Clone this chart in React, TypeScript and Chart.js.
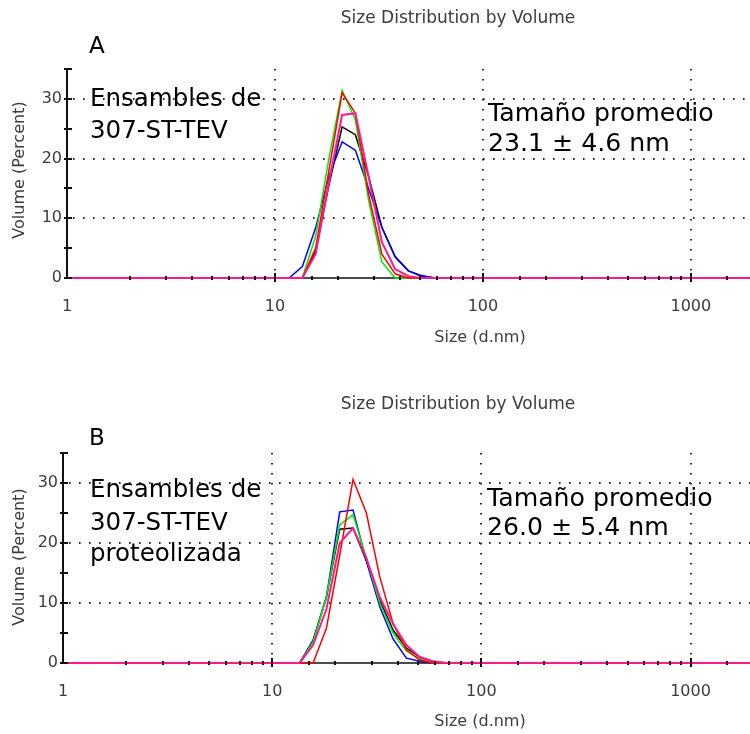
import React, { useEffect, useRef } from 'react';
import { Chart, registerables } from 'chart.js';

Chart.register(...registerables);

// Size bins (d.nm) of the DLS instrument within the visible range
const sizes = [1, 10.1, 11.7, 13.54, 15.69, 18.17, 21.04, 24.36, 28.21, 32.67, 37.84, 43.82, 50.75, 58.77, 68.06, 78.82, 2000];

// Panel A: Ensambles de 307-ST-TEV (Volume %)
const blackA = [0, 0, 0, 0, 4.5, 15.5, 25.3, 24, 17, 8.5, 3.6, 1.2, 0.3, 0, 0, 0, 0];
const blueA = [0, 0, 0, 1.9, 8.4, 17, 22.8, 21.4, 15, 8.5, 3.5, 1.2, 0.4, 0, 0, 0, 0];
const greenA = [0, 0, 0, 0, 7, 20, 31.4, 26.5, 13, 2.7, 0, 0, 0, 0, 0, 0, 0];
const redA = [0, 0, 0, 0, 5, 18, 31, 27.6, 14, 4, 0.7, 0, 0, 0, 0, 0, 0];
const pinkA = [0, 0, 0, 0, 4, 16, 27.3, 27.6, 17, 6, 1.5, 0.3, 0, 0, 0, 0, 0];

// Panel B: Ensambles de 307-ST-TEV proteolizada (Volume %)
const blackB = [0, 0, 0, 0, 3.8, 11, 22.3, 22.5, 17, 10.5, 5.5, 2.5, 1, 0.2, 0, 0, 0];
const blueB = [0, 0, 0, 0, 3.6, 11, 25.2, 25.5, 17, 9.4, 4, 0.8, 0.3, 0, 0, 0, 0];
const greenB = [0, 0, 0, 0, 3.5, 11, 23, 24.7, 17.5, 10, 5, 2, 0.7, 0, 0, 0, 0];
const redB = [0, 0, 0, 0, 0, 5.8, 18, 30.6, 25, 14.4, 6.6, 2.2, 0.5, 0, 0, 0, 0];
const pinkB = [0, 0, 0, 0, 3, 9, 20, 22.5, 17.5, 11, 6.5, 3, 1, 0.3, 0, 0, 0];

const xTickLabels = [1, 10, 100, 1000];
const yTickLabels = [0, 10, 20, 30];
const xMin = 1;
const xMax = 1925;
const yMin = 0;
const yMax = 35;
const yStep = 5;

// drawing order: first listed is drawn first (bottom), last on top
const seriesColors = ['#000000', '#0000ff', '#00ee00', '#ff0000', '#ff1a8c'];

const titleText = 'Size Distribution by Volume';
const xTitle = 'Size (d.nm)';
const yTitle = 'Volume (Percent)';

const FONT = '"DejaVu Sans", "Noto Sans", sans-serif';
const TEXT_COLOR = '#3c3c3c';

type Layout = {
  top: number;
  bottom: number;
  left: number;
  titleY: number;
  letterY: number;
  noteY: number[];
  meanY: number[];
  xTitleY: number;
  yTitleY: number;
  meanX: number;
};

type Panel = {
  letter: string;
  note: string[];
  mean: string[];
  series: number[][];
  layout: Layout;
};

const panels: Panel[] = [
  {
    letter: 'A',
    note: ['Ensambles de', '307-ST-TEV'],
    mean: ['Tamaño promedio', '23.1 ± 4.6 nm'],
    series: [blackA, blueA, greenA, redA, pinkA],
    layout: {
      top: 69, bottom: 278, left: 67,
      titleY: 23, letterY: 53, noteY: [106, 138], meanY: [121, 151],
      xTitleY: 342, yTitleY: 170, meanX: 488,
    },
  },
  {
    letter: 'B',
    note: ['Ensambles de', '307-ST-TEV', 'proteolizada'],
    mean: ['Tamaño promedio', '26.0 ± 5.4 nm'],
    series: [blackB, blueB, greenB, redB, pinkB],
    layout: {
      top: 86, bottom: 296, left: 63,
      titleY: 42, letterY: 78, noteY: [130, 163, 194], meanY: [139, 168],
      xTitleY: 359, yTitleY: 190, meanX: 487,
    },
  },
];

const W = 750;
const H = 367;

function isDecade(v: number) {
  const l = Math.log10(v);
  return Math.abs(l - Math.round(l)) < 1e-9;
}

function makePlugin(panel: Panel) {
  return {
    id: 'dlsDecor',
    beforeDatasetsDraw(chart: any) {
      const { ctx, chartArea: a, scales } = chart;
      const xs = scales.x;
      const ys = scales.y;
      const y0 = ys.getPixelForValue(yMin);
      ctx.save();
      // dotted grid
      ctx.strokeStyle = '#2a2a2a';
      ctx.lineWidth = 2;
      ctx.setLineDash([1.6, 8.4]);
      for (const t of ys.ticks) {
        if (t.value > 0 && yTickLabels.includes(t.value)) {
          const py = Math.round(ys.getPixelForValue(t.value));
          ctx.beginPath();
          ctx.moveTo(a.left + 6, py);
          ctx.lineTo(a.right, py);
          ctx.stroke();
        }
      }
      for (const t of xs.ticks) {
        if (t.value > xMin && xTickLabels.includes(t.value)) {
          const px = Math.round(xs.getPixelForValue(t.value));
          ctx.beginPath();
          ctx.moveTo(px, a.top);
          ctx.lineTo(px, a.bottom - 4);
          ctx.stroke();
        }
      }
      ctx.setLineDash([]);
      // axis lines
      ctx.strokeStyle = '#111';
      ctx.lineWidth = 2;
      ctx.beginPath();
      ctx.moveTo(a.left, a.top);
      ctx.lineTo(a.left, y0 + 1);
      ctx.stroke();
      ctx.lineWidth = 1.5;
      ctx.beginPath();
      ctx.moveTo(a.left, y0);
      ctx.lineTo(a.right, y0);
      ctx.stroke();
      ctx.restore();
    },
    afterDatasetsDraw(chart: any) {
      const { ctx, chartArea: a, scales } = chart;
      const xs = scales.x;
      const ys = scales.y;
      const L = panel.layout;
      const y0 = ys.getPixelForValue(yMin);
      ctx.save();
      // tick marks crossing the axes
      ctx.strokeStyle = '#111';
      ctx.lineWidth = 2;
      ctx.beginPath();
      for (const t of ys.ticks) {
        const py = Math.round(ys.getPixelForValue(t.value));
        ctx.moveTo(a.left - 3, py);
        ctx.lineTo(a.left + 5, py);
      }
      for (const t of xs.ticks) {
        if (t.value <= xMin || t.value >= xMax) continue;
        const px = Math.round(xs.getPixelForValue(t.value));
        const big = isDecade(t.value);
        ctx.moveTo(px, y0 - (big ? 5 : 2));
        ctx.lineTo(px, y0 + (big ? 4 : 2));
      }
      ctx.stroke();

      // texts
      ctx.fillStyle = TEXT_COLOR;
      ctx.textBaseline = 'alphabetic';
      ctx.font = `17px ${FONT}`;
      ctx.textAlign = 'center';
      ctx.fillText(titleText, 458, L.titleY);
      ctx.font = `16px ${FONT}`;
      ctx.fillText(xTitle, 480, L.xTitleY);
      ctx.save();
      ctx.translate(24, L.yTitleY);
      ctx.rotate(-Math.PI / 2);
      ctx.fillText(yTitle, 0, 0);
      ctx.restore();

      ctx.fillStyle = '#000';
      ctx.textAlign = 'left';
      ctx.font = `23px ${FONT}`;
      ctx.fillText(panel.letter, 89, L.letterY);
      ctx.font = `24.5px ${FONT}`;
      panel.note.forEach((s, i) => ctx.fillText(s, 90, L.noteY[i]));
      ctx.font = `25.2px ${FONT}`;
      panel.mean.forEach((s, i) => ctx.fillText(s, L.meanX, L.meanY[i]));
      ctx.restore();
    },
  };
}

function DlsChart({ panel }: { panel: Panel }) {
  const ref = useRef<HTMLCanvasElement | null>(null);
  useEffect(() => {
    if (!ref.current) return;
    const L = panel.layout;
    const n = panel.series.length;
    const chart = new Chart(ref.current, {
      type: 'line',
      data: {
        datasets: panel.series.map((vals, i) => ({
          data: sizes.map((s, k) => ({ x: s, y: vals[k] })),
          borderColor: seriesColors[i],
          borderWidth: i === n - 1 ? 2 : 1.5,
          pointRadius: 0,
          tension: 0,
          fill: false,
          clip: 3,
          // higher order is drawn first; last series ends on top
          order: n - i,
        })),
      },
      options: {
        animation: false,
        responsive: false,
        maintainAspectRatio: false,
        devicePixelRatio: 1,
        parsing: false as any,
        normalized: true,
        layout: { padding: { top: L.top, left: 0, right: 0, bottom: 0 } },
        plugins: {
          legend: { display: false },
          title: { display: false },
          tooltip: { enabled: false },
        },
        scales: {
          x: {
            type: 'logarithmic',
            min: xMin,
            max: xMax,
            grid: { display: false, drawTicks: false },
            border: { display: false },
            ticks: {
              autoSkip: false,
              maxRotation: 0,
              padding: 19,
              color: TEXT_COLOR,
              font: { family: FONT, size: 16 },
              callback: (v: any) => (xTickLabels.includes(Number(v)) ? String(v) : ''),
            },
            afterFit: (scale: any) => {
              scale.height = H - L.bottom;
              scale.paddingLeft = 0;
              scale.paddingRight = 0;
            },
          },
          y: {
            type: 'linear',
            min: yMin,
            max: yMax,
            grid: { display: false, drawTicks: false },
            border: { display: false },
            ticks: {
              stepSize: yStep,
              padding: 5,
              color: TEXT_COLOR,
              font: { family: FONT, size: 16 },
              callback: (v: any) => (yTickLabels.includes(Number(v)) ? String(v) : ''),
            },
            afterFit: (scale: any) => {
              scale.width = L.left;
              scale.paddingTop = 0;
              scale.paddingBottom = 0;
            },
          },
        },
      },
      plugins: [makePlugin(panel)],
    });
    return () => chart.destroy();
  }, [panel]);
  return <canvas ref={ref} width={W} height={H} style={{ display: 'block', width: W, height: H }} />;
}

export default function App() {
  return (
    <div style={{ position: 'absolute', left: 0, top: 0, width: W, height: 2 * H, background: '#fff' }}>
      {panels.map((p) => (
        <DlsChart key={p.letter} panel={p} />
      ))}
    </div>
  );
}
